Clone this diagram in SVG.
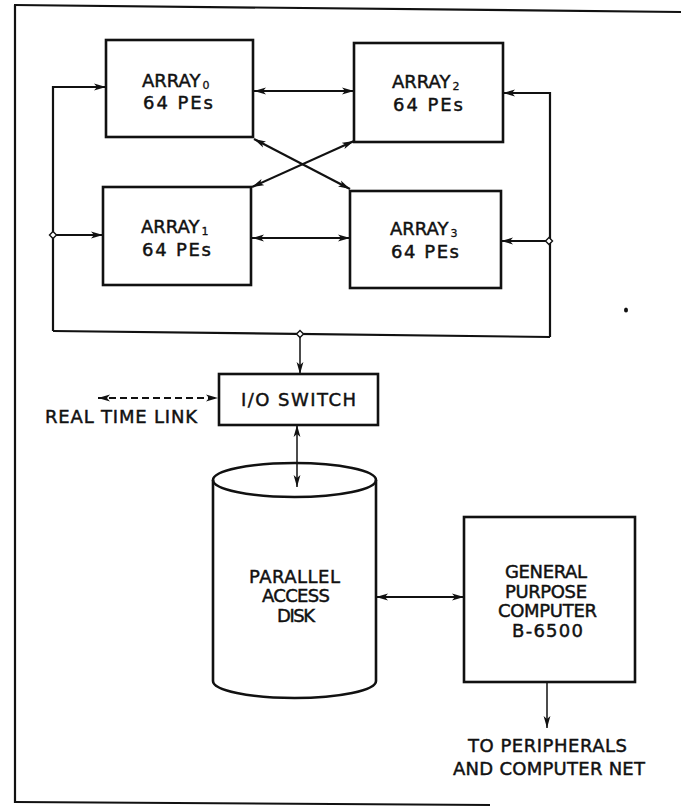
<svg xmlns="http://www.w3.org/2000/svg" width="681" height="809" viewBox="0 0 681 809">
<defs>
<style>
.box{fill:none;stroke:#111;stroke-width:2.6}
.ln{fill:none;stroke:#111;stroke-width:2.2}
.thin{fill:none;stroke:#111;stroke-width:1.5}
.dash{fill:none;stroke:#111;stroke-width:2.2;stroke-dasharray:7 4}
.jn{fill:#fff;stroke:#111;stroke-width:1.4}
text{font-family:"DejaVu Sans","Liberation Sans",sans-serif;font-size:18px;fill:#111;stroke:#111;stroke-width:0.45}
.sub{font-size:11px;stroke-width:0.3}
</style>
<marker id="ah" viewBox="0 0 12 8" refX="12" refY="4" markerWidth="12" markerHeight="8" markerUnits="userSpaceOnUse" orient="auto-start-reverse">
<path d="M0,0.6 L12,4 L0,7.4 L3,4 z" fill="#111"/>
</marker>
</defs>
<g id="frame">
<path class="ln" d="M14,5 L681,12"/>
<path class="ln" d="M15,5 L15,803"/>
<path class="ln" d="M15,802 L490,805"/>
<ellipse cx="626" cy="310" rx="2" ry="2.5" fill="#111"/>
</g>
<g id="connectors">
<path class="ln" d="M53,331 V87 H106" marker-end="url(#ah)"/>
<path class="ln" d="M53,235 H103" marker-end="url(#ah)"/>
<path class="ln" d="M550,337 V93 H503" marker-end="url(#ah)"/>
<path class="ln" d="M549,241 H501" marker-end="url(#ah)"/>
<path class="ln" d="M53,331 L550,337"/>
<path class="thin" d="M300,334 V374" marker-end="url(#ah)"/>
<path class="thin" d="M297,425 V487" marker-start="url(#ah)" marker-end="url(#ah)"/>
<path class="dash" d="M98,398 H218" marker-start="url(#ah)" marker-end="url(#ah)"/>
<path class="ln" d="M254,91 H354" marker-start="url(#ah)" marker-end="url(#ah)"/>
<path class="ln" d="M252,238 H350" marker-start="url(#ah)" marker-end="url(#ah)"/>
<path class="ln" d="M254,139 L350,189" marker-start="url(#ah)" marker-end="url(#ah)"/>
<path class="ln" d="M252,187 L354,141" marker-start="url(#ah)" marker-end="url(#ah)"/>
<path class="ln" d="M376,597 H464" marker-start="url(#ah)" marker-end="url(#ah)"/>
<path class="thin" d="M547,682 V728" marker-end="url(#ah)"/>
<path class="jn" d="M53,231.5 L56.5,235 L53,238.5 L49.5,235 z"/>
<path class="jn" d="M549,237.5 L552.5,241 L549,244.5 L545.5,241 z"/>
<path class="jn" d="M300,330.5 L303.5,334 L300,337.5 L296.5,334 z"/>
</g>
<g id="array0">
<rect class="box" x="106" y="40" width="147" height="97"/>
<text x="142" y="87">ARRAY<tspan class="sub" dx="2" dy="2">0</tspan></text>
<text x="143" y="109" textLength="70" lengthAdjust="spacing">64 PEs</text>
</g>
<g id="array1">
<rect class="box" x="103" y="187" width="148" height="98"/>
<text x="141" y="233">ARRAY<tspan class="sub" dx="2" dy="2">1</tspan></text>
<text x="142" y="256" textLength="69" lengthAdjust="spacing">64 PEs</text>
</g>
<g id="array2">
<rect class="box" x="354" y="43" width="149" height="99"/>
<text x="392" y="88">ARRAY<tspan class="sub" dx="2" dy="2">2</tspan></text>
<text x="393" y="111" textLength="70" lengthAdjust="spacing">64 PEs</text>
</g>
<g id="array3">
<rect class="box" x="350" y="191" width="151" height="97"/>
<text x="390" y="235">ARRAY<tspan class="sub" dx="2" dy="2">3</tspan></text>
<text x="391" y="258" textLength="68" lengthAdjust="spacing">64 PEs</text>
</g>
<g id="io-switch">
<rect class="box" x="219" y="374" width="159" height="51"/>
<text x="241" y="406" textLength="115" lengthAdjust="spacing">I/O SWITCH</text>
</g>
<g id="real-time-link">
<text x="45" y="423" textLength="152" lengthAdjust="spacing">REAL TIME LINK</text>
</g>
<g id="disk">
<path class="box" d="M213,480 V681 A81.5,17 0 0 0 376,681 V480"/>
<ellipse class="box" cx="294.5" cy="480" rx="81.5" ry="17"/>
<text x="249" y="583" textLength="91" lengthAdjust="spacing">PARALLEL</text>
<text x="262" y="602" textLength="68" lengthAdjust="spacing">ACCESS</text>
<text x="277" y="622" textLength="38" lengthAdjust="spacing">DISK</text>
</g>
<g id="computer">
<rect class="box" x="464" y="517" width="171" height="165"/>
<text x="505" y="578" textLength="82" lengthAdjust="spacing">GENERAL</text>
<text x="505" y="598" textLength="82" lengthAdjust="spacing">PURPOSE</text>
<text x="498" y="617" textLength="99" lengthAdjust="spacing">COMPUTER</text>
<text x="512" y="637" textLength="71" lengthAdjust="spacing">B-6500</text>
</g>
<g id="peripherals">
<text x="468" y="752" textLength="159" lengthAdjust="spacing">TO PERIPHERALS</text>
<text x="453" y="775" textLength="192" lengthAdjust="spacing">AND COMPUTER NET</text>
</g>
</svg>
